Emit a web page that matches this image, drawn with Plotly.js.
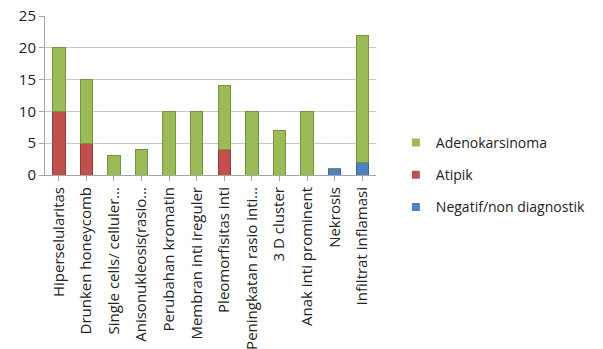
<!DOCTYPE html>
<html><head><meta charset="utf-8">
<script src="https://cdn.plot.ly/plotly-3.0.1.min.js"></script>
<style>html,body{margin:0;padding:0;background:#fff}#c{width:603px;height:349px}</style>
</head><body><div id="c"></div>
<script>
const categories = ["Hiperselularitas","Drunken honeycomb","Single cells/ celluler…","Anisonukleosis(rasio…","Perubahan kromatin","Membran inti ireguler","Pleomorfisitas inti","Peningkatan rasio inti…","3 D cluster","Anak inti prominent","Nekrosis","Infiltrat inflamasi"];
const negatif = [0,0,0,0,0,0,0,0,0,0,1,2];
const atipik = [10,5,0,0,0,0,4,0,0,0,0,0];
const adeno = [10,10,3,4,10,10,10,10,7,10,0,20];
const seriesNames = ["Negatif/non diagnostik","Atipik","Adenokarsinoma"];
const yTicks = [0,5,10,15,20,25];

const fam = "Open Sans, Liberation Sans, sans-serif";
const colors = ["#4F81BD","#C0504D","#9BBB59"];
const edges = ["#3A6596","#953B39","#77933C"];
const vals = [negatif, atipik, adeno];
const data = [];
vals.forEach((v,i) => data.push({type:"bar", name:seriesNames[i], x:categories, y:v, width:0.45,
  marker:{color:colors[i], line:{color:edges[i], width:1}}, showlegend:false, hoverinfo:"y"}));
// legend entries (small squares), top to bottom: Adenokarsinoma, Atipik, Negatif
[2,1,0].forEach((i,k) => data.push({type:"scatter", mode:"markers", name:seriesNames[i], x:[null], y:[null],
  legendgroup:"g"+k, marker:{symbol:"square", size:8, color:colors[i]}, showlegend:true}));

const layout = {
  width:603, height:349, barmode:"stack", bargap:0.5,
  margin:{l:45, r:220, t:16, b:174},
  paper_bgcolor:"#fff", plot_bgcolor:"#fff",
  font:{family:fam, size:12, color:"#222"},
  showlegend:true,
  legend:{x:1.06, y:0.0, yanchor:"middle", xanchor:"left", traceorder:"grouped",
    tracegroupgap:11, font:{family:fam, size:14, color:"#222"}, itemwidth:30},
  xaxis:{type:"category", tickangle:-90, showline:true, linecolor:"#a6a6a6",
    ticks:"outside", ticklen:5, tickcolor:"#a6a6a6", showgrid:false,
    tickfont:{family:fam, size:15, color:"#222"}},
  yaxis:{range:[0,25], tickvals:yTicks, showline:true, linecolor:"#a6a6a6",
    gridcolor:"#c8c8c8", ticks:"outside", ticklen:5, tickcolor:"#a6a6a6",
    tickfont:{family:fam, size:15, color:"#222"}, zeroline:false}
};
Plotly.newPlot("c", data, layout, {displayModeBar:false, staticPlot:true});
</script></body></html>
